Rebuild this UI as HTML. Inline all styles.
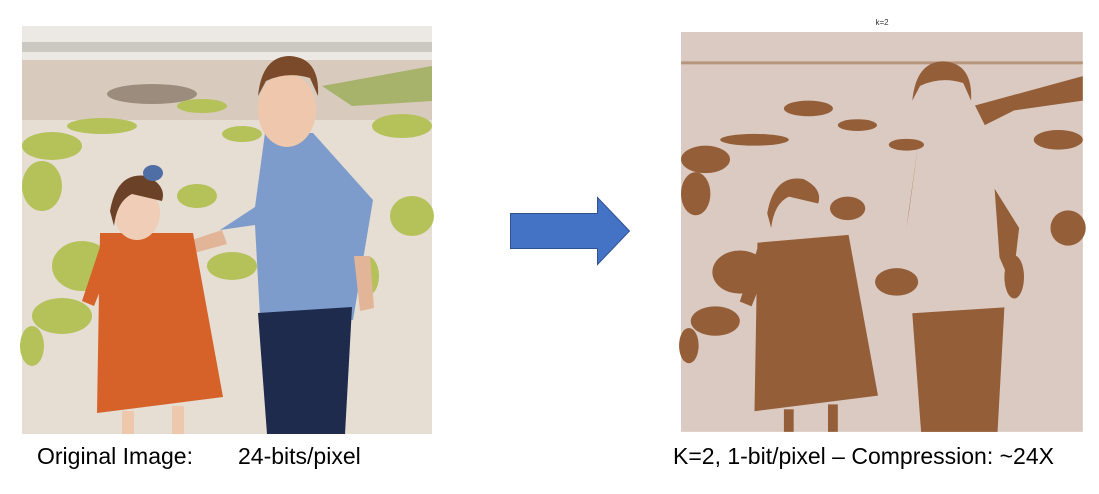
<!DOCTYPE html>
<html><head><meta charset="utf-8"><style>
body{margin:0;width:1099px;height:494px;background:#fff;overflow:hidden;font-family:"Liberation Sans",sans-serif}
.cap{position:absolute;font-size:23px;color:#000;top:443px;white-space:nowrap}
</style></head><body>
<svg width="1099" height="494" style="position:absolute;left:0;top:0">
 <g transform="translate(22,26)">
  <rect width="410" height="408" fill="#e6ddd3"/>
  <rect width="410" height="34" fill="#ece8e4"/>
  <rect y="16" width="410" height="10" fill="#b8b2ab" opacity="0.6"/>
  <rect y="34" width="410" height="60" fill="#d8cbbd"/>
  <ellipse cx="130" cy="68" rx="45" ry="10" fill="#9b8c7e"/>
  <path d="M300 60 L410 40 L410 75 L330 80 Z" fill="#a7b26a"/>
  <g fill="#b5c25a">
   <ellipse cx="30" cy="120" rx="30" ry="14"/><ellipse cx="80" cy="100" rx="35" ry="8"/>
   <ellipse cx="20" cy="160" rx="20" ry="25"/><ellipse cx="180" cy="80" rx="25" ry="7"/>
   <ellipse cx="220" cy="108" rx="20" ry="8"/><ellipse cx="380" cy="100" rx="30" ry="12"/>
   <ellipse cx="390" cy="190" rx="22" ry="20"/><ellipse cx="60" cy="240" rx="30" ry="25"/>
   <ellipse cx="40" cy="290" rx="30" ry="18"/><ellipse cx="10" cy="320" rx="12" ry="20"/>
   <ellipse cx="175" cy="170" rx="20" ry="12"/><ellipse cx="210" cy="240" rx="25" ry="14"/>
   <ellipse cx="345" cy="250" rx="12" ry="20"/>
  </g>
  <path d="M233 181 L243 107 L291 107 L351 174 L331 294 L238 291 L233 199 L198 204 Z" fill="#7e9ccb"/>
  <path d="M236 287 L330 281 L323 408 L245 408 Z" fill="#1e2b4c"/>
  <path d="M200 204 L128 228 L132 238 L205 218 Z" fill="#e2b598"/>
  <path d="M332 230 L348 230 L352 282 L338 285 Z" fill="#e2b598"/>
  <ellipse cx="265" cy="84" rx="29" ry="37" fill="#efc7ac"/>
  <path d="M236 70 Q240 30 268 30 Q298 32 296 70 L288 52 Q265 45 244 55 Z" fill="#7a4a2a"/>
  <path d="M78 207 L171 207 L201 371 L75 387 Z" fill="#d6622a"/>
  <path d="M80 215 L60 275 L72 280 L92 230 Z" fill="#d6622a"/>
  <ellipse cx="115" cy="187" rx="23" ry="27" fill="#f0cdb6"/>
  <path d="M88 185 Q95 145 125 150 Q145 160 140 175 L110 168 Q95 175 92 200 Z" fill="#6b4128"/>
  <ellipse cx="131" cy="147" rx="10" ry="8" fill="#4f6ea5"/>
  <rect x="100" y="385" width="12" height="23" fill="#edc8ad"/><rect x="150" y="380" width="12" height="28" fill="#edc8ad"/>
 </g>
 <path d="M510.5 213.5 L597.5 213.5 L597.5 197.5 L629.5 231 L597.5 264.5 L597.5 248.5 L510.5 248.5 Z" fill="#4472c4" stroke="#2f528f" stroke-width="1"/>
 <text x="882" y="25" font-size="8" text-anchor="middle" fill="#333" font-family="Liberation Sans, sans-serif">k=2</text>
 <g transform="translate(681,32) scale(0.98)">
  <rect width="410" height="408" fill="#dbcac1"/>
  <g fill="#945e38">
   <rect x="0" y="30" width="410" height="3" opacity="0.5"/>
   <ellipse cx="130" cy="78" rx="25" ry="8"/>
   <path d="M300 75 L410 45 L410 70 L340 80 L310 95 Z"/>
   <ellipse cx="25" cy="130" rx="25" ry="14"/><ellipse cx="75" cy="110" rx="35" ry="6"/>
   <ellipse cx="15" cy="165" rx="15" ry="22"/><ellipse cx="180" cy="95" rx="20" ry="6"/>
   <ellipse cx="230" cy="115" rx="18" ry="6"/><ellipse cx="385" cy="110" rx="25" ry="10"/>
   <ellipse cx="395" cy="200" rx="18" ry="18"/><ellipse cx="60" cy="245" rx="28" ry="22"/>
   <ellipse cx="35" cy="295" rx="25" ry="15"/><ellipse cx="8" cy="320" rx="10" ry="18"/>
   <ellipse cx="170" cy="180" rx="18" ry="12"/><ellipse cx="220" cy="255" rx="22" ry="14"/>
   <ellipse cx="340" cy="250" rx="10" ry="22"/>
   <path d="M233 181 L243 107 L230 200 Z"/>
   <path d="M236 287 L330 281 L323 408 L245 408 Z"/>
   <path d="M236 70 Q240 30 268 30 Q298 32 296 70 L288 52 Q265 45 244 55 Z"/>
   <path d="M78 215 L171 207 L201 371 L75 387 Z"/>
   <path d="M80 215 L60 275 L72 280 L92 230 Z"/>
   <path d="M88 185 Q95 145 125 150 Q145 160 140 175 L110 168 Q95 175 92 200 Z"/>
   <rect x="105" y="385" width="10" height="23"/><rect x="150" y="380" width="10" height="28"/>
   <path d="M320 160 L345 200 L338 260 L325 230 Z"/>
  </g>
 </g>
</svg>
<div class="cap" style="left:37px">Original Image:</div>
<div class="cap" style="left:238px">24-bits/pixel</div>
<div class="cap" style="left:673px">K=2, 1-bit/pixel – Compression: ~24X</div>
</body></html>
